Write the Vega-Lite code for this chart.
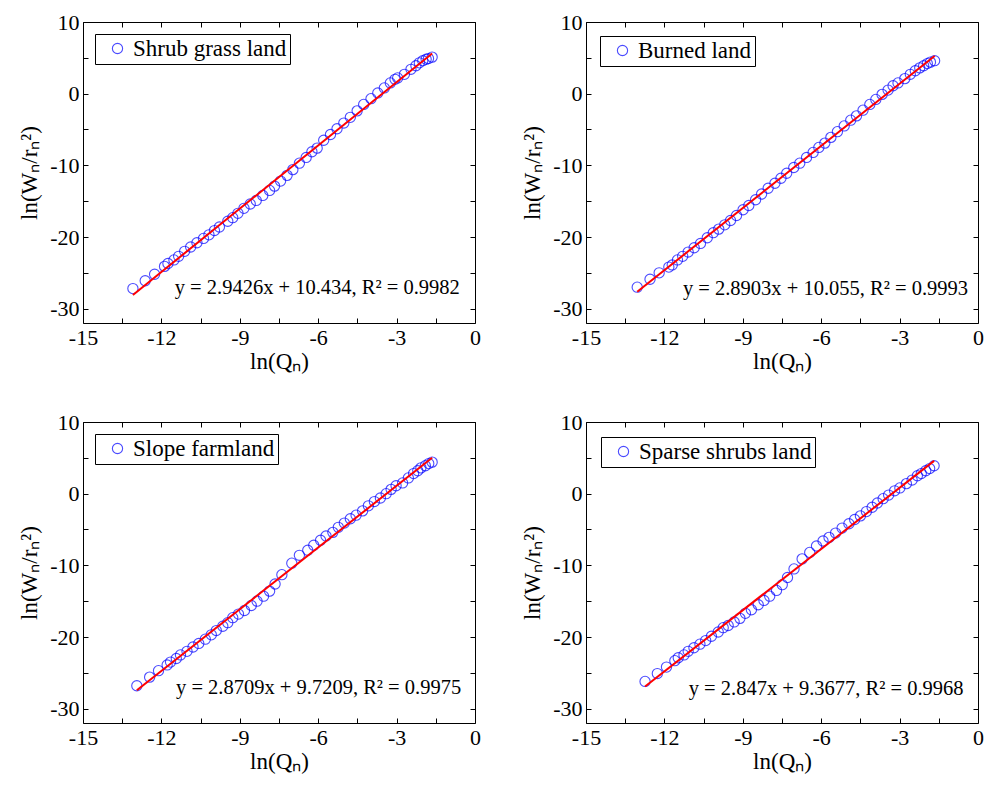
{
  "$schema": "https://vega.github.io/schema/vega-lite/v6.json",
  "background": "white",
  "padding": {"left": 18, "top": 10, "right": 5, "bottom": 5},
  "datasets": {
    "p1": [
      {"lnQ": -13.09, "lnW": -27.2, "land": "Shrub grass land"},
      {"lnQ": -12.62, "lnW": -26.1, "land": "Shrub grass land"},
      {"lnQ": -12.26, "lnW": -25.2, "land": "Shrub grass land"},
      {"lnQ": -11.88, "lnW": -24.1, "land": "Shrub grass land"},
      {"lnQ": -11.75, "lnW": -23.7, "land": "Shrub grass land"},
      {"lnQ": -11.52, "lnW": -23.2, "land": "Shrub grass land"},
      {"lnQ": -11.34, "lnW": -22.7, "land": "Shrub grass land"},
      {"lnQ": -11.11, "lnW": -22.0, "land": "Shrub grass land"},
      {"lnQ": -10.88, "lnW": -21.4, "land": "Shrub grass land"},
      {"lnQ": -10.64, "lnW": -20.8, "land": "Shrub grass land"},
      {"lnQ": -10.39, "lnW": -20.2, "land": "Shrub grass land"},
      {"lnQ": -10.18, "lnW": -19.7, "land": "Shrub grass land"},
      {"lnQ": -9.97, "lnW": -19.1, "land": "Shrub grass land"},
      {"lnQ": -9.78, "lnW": -18.6, "land": "Shrub grass land"},
      {"lnQ": -9.46, "lnW": -17.8, "land": "Shrub grass land"},
      {"lnQ": -9.27, "lnW": -17.3, "land": "Shrub grass land"},
      {"lnQ": -9.07, "lnW": -16.7, "land": "Shrub grass land"},
      {"lnQ": -8.84, "lnW": -16.0, "land": "Shrub grass land"},
      {"lnQ": -8.60, "lnW": -15.4, "land": "Shrub grass land"},
      {"lnQ": -8.37, "lnW": -14.9, "land": "Shrub grass land"},
      {"lnQ": -8.12, "lnW": -14.2, "land": "Shrub grass land"},
      {"lnQ": -7.86, "lnW": -13.5, "land": "Shrub grass land"},
      {"lnQ": -7.67, "lnW": -12.9, "land": "Shrub grass land"},
      {"lnQ": -7.44, "lnW": -12.2, "land": "Shrub grass land"},
      {"lnQ": -7.19, "lnW": -11.4, "land": "Shrub grass land"},
      {"lnQ": -6.97, "lnW": -10.6, "land": "Shrub grass land"},
      {"lnQ": -6.72, "lnW": -9.7, "land": "Shrub grass land"},
      {"lnQ": -6.46, "lnW": -8.9, "land": "Shrub grass land"},
      {"lnQ": -6.24, "lnW": -8.1, "land": "Shrub grass land"},
      {"lnQ": -6.04, "lnW": -7.6, "land": "Shrub grass land"},
      {"lnQ": -5.79, "lnW": -6.5, "land": "Shrub grass land"},
      {"lnQ": -5.53, "lnW": -5.7, "land": "Shrub grass land"},
      {"lnQ": -5.28, "lnW": -4.9, "land": "Shrub grass land"},
      {"lnQ": -5.02, "lnW": -4.1, "land": "Shrub grass land"},
      {"lnQ": -4.77, "lnW": -3.3, "land": "Shrub grass land"},
      {"lnQ": -4.51, "lnW": -2.4, "land": "Shrub grass land"},
      {"lnQ": -4.26, "lnW": -1.5, "land": "Shrub grass land"},
      {"lnQ": -3.98, "lnW": -0.7, "land": "Shrub grass land"},
      {"lnQ": -3.72, "lnW": 0.1, "land": "Shrub grass land"},
      {"lnQ": -3.47, "lnW": 0.8, "land": "Shrub grass land"},
      {"lnQ": -3.24, "lnW": 1.5, "land": "Shrub grass land"},
      {"lnQ": -3.06, "lnW": 2.0, "land": "Shrub grass land"},
      {"lnQ": -2.96, "lnW": 2.2, "land": "Shrub grass land"},
      {"lnQ": -2.70, "lnW": 2.7, "land": "Shrub grass land"},
      {"lnQ": -2.45, "lnW": 3.4, "land": "Shrub grass land"},
      {"lnQ": -2.26, "lnW": 3.9, "land": "Shrub grass land"},
      {"lnQ": -2.13, "lnW": 4.3, "land": "Shrub grass land"},
      {"lnQ": -2.00, "lnW": 4.6, "land": "Shrub grass land"},
      {"lnQ": -1.87, "lnW": 4.8, "land": "Shrub grass land"},
      {"lnQ": -1.78, "lnW": 4.9, "land": "Shrub grass land"},
      {"lnQ": -1.64, "lnW": 5.1, "land": "Shrub grass land"}
    ],
    "f1": [{"lnQ": -13.09, "lnW": -28.08}, {"lnQ": -1.64, "lnW": 5.61}],
    "p2": [
      {"lnQ": -13.04, "lnW": -27.0, "land": "Burned land"},
      {"lnQ": -12.55, "lnW": -25.9, "land": "Burned land"},
      {"lnQ": -12.20, "lnW": -25.0, "land": "Burned land"},
      {"lnQ": -11.83, "lnW": -24.2, "land": "Burned land"},
      {"lnQ": -11.70, "lnW": -23.9, "land": "Burned land"},
      {"lnQ": -11.50, "lnW": -23.2, "land": "Burned land"},
      {"lnQ": -11.30, "lnW": -22.7, "land": "Burned land"},
      {"lnQ": -11.09, "lnW": -22.1, "land": "Burned land"},
      {"lnQ": -10.86, "lnW": -21.5, "land": "Burned land"},
      {"lnQ": -10.62, "lnW": -20.9, "land": "Burned land"},
      {"lnQ": -10.36, "lnW": -20.1, "land": "Burned land"},
      {"lnQ": -10.13, "lnW": -19.4, "land": "Burned land"},
      {"lnQ": -9.92, "lnW": -18.9, "land": "Burned land"},
      {"lnQ": -9.69, "lnW": -18.3, "land": "Burned land"},
      {"lnQ": -9.47, "lnW": -17.7, "land": "Burned land"},
      {"lnQ": -9.24, "lnW": -17.0, "land": "Burned land"},
      {"lnQ": -8.99, "lnW": -16.2, "land": "Burned land"},
      {"lnQ": -8.77, "lnW": -15.6, "land": "Burned land"},
      {"lnQ": -8.51, "lnW": -14.8, "land": "Burned land"},
      {"lnQ": -8.28, "lnW": -14.0, "land": "Burned land"},
      {"lnQ": -8.03, "lnW": -13.2, "land": "Burned land"},
      {"lnQ": -7.77, "lnW": -12.5, "land": "Burned land"},
      {"lnQ": -7.54, "lnW": -11.8, "land": "Burned land"},
      {"lnQ": -7.32, "lnW": -11.1, "land": "Burned land"},
      {"lnQ": -7.05, "lnW": -10.3, "land": "Burned land"},
      {"lnQ": -6.82, "lnW": -9.7, "land": "Burned land"},
      {"lnQ": -6.56, "lnW": -8.9, "land": "Burned land"},
      {"lnQ": -6.31, "lnW": -8.2, "land": "Burned land"},
      {"lnQ": -6.09, "lnW": -7.5, "land": "Burned land"},
      {"lnQ": -5.86, "lnW": -6.9, "land": "Burned land"},
      {"lnQ": -5.63, "lnW": -6.1, "land": "Burned land"},
      {"lnQ": -5.38, "lnW": -5.3, "land": "Burned land"},
      {"lnQ": -5.12, "lnW": -4.5, "land": "Burned land"},
      {"lnQ": -4.87, "lnW": -3.7, "land": "Burned land"},
      {"lnQ": -4.65, "lnW": -3.1, "land": "Burned land"},
      {"lnQ": -4.40, "lnW": -2.3, "land": "Burned land"},
      {"lnQ": -4.14, "lnW": -1.5, "land": "Burned land"},
      {"lnQ": -3.91, "lnW": -0.8, "land": "Burned land"},
      {"lnQ": -3.67, "lnW": -0.1, "land": "Burned land"},
      {"lnQ": -3.44, "lnW": 0.5, "land": "Burned land"},
      {"lnQ": -3.25, "lnW": 1.1, "land": "Burned land"},
      {"lnQ": -3.06, "lnW": 1.5, "land": "Burned land"},
      {"lnQ": -2.80, "lnW": 2.1, "land": "Burned land"},
      {"lnQ": -2.59, "lnW": 2.7, "land": "Burned land"},
      {"lnQ": -2.40, "lnW": 3.2, "land": "Burned land"},
      {"lnQ": -2.23, "lnW": 3.6, "land": "Burned land"},
      {"lnQ": -2.08, "lnW": 3.9, "land": "Burned land"},
      {"lnQ": -1.94, "lnW": 4.2, "land": "Burned land"},
      {"lnQ": -1.82, "lnW": 4.4, "land": "Burned land"},
      {"lnQ": -1.66, "lnW": 4.6, "land": "Burned land"}
    ],
    "f2": [{"lnQ": -13.04, "lnW": -27.63}, {"lnQ": -1.66, "lnW": 5.26}],
    "p3": [
      {"lnQ": -12.94, "lnW": -26.8, "land": "Slope farmland"},
      {"lnQ": -12.45, "lnW": -25.6, "land": "Slope farmland"},
      {"lnQ": -12.11, "lnW": -24.7, "land": "Slope farmland"},
      {"lnQ": -11.78, "lnW": -23.9, "land": "Slope farmland"},
      {"lnQ": -11.65, "lnW": -23.5, "land": "Slope farmland"},
      {"lnQ": -11.43, "lnW": -23.0, "land": "Slope farmland"},
      {"lnQ": -11.27, "lnW": -22.5, "land": "Slope farmland"},
      {"lnQ": -11.02, "lnW": -22.0, "land": "Slope farmland"},
      {"lnQ": -10.79, "lnW": -21.4, "land": "Slope farmland"},
      {"lnQ": -10.57, "lnW": -20.9, "land": "Slope farmland"},
      {"lnQ": -10.32, "lnW": -20.3, "land": "Slope farmland"},
      {"lnQ": -10.09, "lnW": -19.7, "land": "Slope farmland"},
      {"lnQ": -9.90, "lnW": -19.1, "land": "Slope farmland"},
      {"lnQ": -9.65, "lnW": -18.5, "land": "Slope farmland"},
      {"lnQ": -9.46, "lnW": -18.0, "land": "Slope farmland"},
      {"lnQ": -9.27, "lnW": -17.3, "land": "Slope farmland"},
      {"lnQ": -9.05, "lnW": -16.8, "land": "Slope farmland"},
      {"lnQ": -8.82, "lnW": -16.3, "land": "Slope farmland"},
      {"lnQ": -8.56, "lnW": -15.6, "land": "Slope farmland"},
      {"lnQ": -8.34, "lnW": -15.0, "land": "Slope farmland"},
      {"lnQ": -8.09, "lnW": -14.3, "land": "Slope farmland"},
      {"lnQ": -7.86, "lnW": -13.6, "land": "Slope farmland"},
      {"lnQ": -7.65, "lnW": -12.6, "land": "Slope farmland"},
      {"lnQ": -7.39, "lnW": -11.3, "land": "Slope farmland"},
      {"lnQ": -7.01, "lnW": -9.7, "land": "Slope farmland"},
      {"lnQ": -6.72, "lnW": -8.6, "land": "Slope farmland"},
      {"lnQ": -6.40, "lnW": -7.9, "land": "Slope farmland"},
      {"lnQ": -6.17, "lnW": -7.2, "land": "Slope farmland"},
      {"lnQ": -5.91, "lnW": -6.5, "land": "Slope farmland"},
      {"lnQ": -5.70, "lnW": -5.9, "land": "Slope farmland"},
      {"lnQ": -5.44, "lnW": -5.4, "land": "Slope farmland"},
      {"lnQ": -5.23, "lnW": -4.7, "land": "Slope farmland"},
      {"lnQ": -5.00, "lnW": -4.1, "land": "Slope farmland"},
      {"lnQ": -4.77, "lnW": -3.5, "land": "Slope farmland"},
      {"lnQ": -4.55, "lnW": -3.0, "land": "Slope farmland"},
      {"lnQ": -4.30, "lnW": -2.4, "land": "Slope farmland"},
      {"lnQ": -4.08, "lnW": -1.7, "land": "Slope farmland"},
      {"lnQ": -3.85, "lnW": -1.1, "land": "Slope farmland"},
      {"lnQ": -3.62, "lnW": -0.6, "land": "Slope farmland"},
      {"lnQ": -3.40, "lnW": 0.0, "land": "Slope farmland"},
      {"lnQ": -3.21, "lnW": 0.6, "land": "Slope farmland"},
      {"lnQ": -3.02, "lnW": 1.1, "land": "Slope farmland"},
      {"lnQ": -2.77, "lnW": 1.5, "land": "Slope farmland"},
      {"lnQ": -2.55, "lnW": 2.2, "land": "Slope farmland"},
      {"lnQ": -2.35, "lnW": 2.8, "land": "Slope farmland"},
      {"lnQ": -2.19, "lnW": 3.2, "land": "Slope farmland"},
      {"lnQ": -2.07, "lnW": 3.6, "land": "Slope farmland"},
      {"lnQ": -1.90, "lnW": 3.9, "land": "Slope farmland"},
      {"lnQ": -1.77, "lnW": 4.2, "land": "Slope farmland"},
      {"lnQ": -1.64, "lnW": 4.4, "land": "Slope farmland"}
    ],
    "f3": [{"lnQ": -12.94, "lnW": -27.43}, {"lnQ": -1.64, "lnW": 5.01}],
    "p4": [
      {"lnQ": -12.74, "lnW": -26.2, "land": "Sparse shrubs land"},
      {"lnQ": -12.27, "lnW": -25.1, "land": "Sparse shrubs land"},
      {"lnQ": -11.92, "lnW": -24.2, "land": "Sparse shrubs land"},
      {"lnQ": -11.60, "lnW": -23.3, "land": "Sparse shrubs land"},
      {"lnQ": -11.47, "lnW": -22.9, "land": "Sparse shrubs land"},
      {"lnQ": -11.25, "lnW": -22.5, "land": "Sparse shrubs land"},
      {"lnQ": -11.09, "lnW": -22.0, "land": "Sparse shrubs land"},
      {"lnQ": -10.87, "lnW": -21.5, "land": "Sparse shrubs land"},
      {"lnQ": -10.64, "lnW": -21.0, "land": "Sparse shrubs land"},
      {"lnQ": -10.42, "lnW": -20.5, "land": "Sparse shrubs land"},
      {"lnQ": -10.20, "lnW": -19.9, "land": "Sparse shrubs land"},
      {"lnQ": -9.94, "lnW": -19.3, "land": "Sparse shrubs land"},
      {"lnQ": -9.75, "lnW": -18.7, "land": "Sparse shrubs land"},
      {"lnQ": -9.56, "lnW": -18.4, "land": "Sparse shrubs land"},
      {"lnQ": -9.33, "lnW": -17.9, "land": "Sparse shrubs land"},
      {"lnQ": -9.11, "lnW": -17.4, "land": "Sparse shrubs land"},
      {"lnQ": -8.90, "lnW": -16.7, "land": "Sparse shrubs land"},
      {"lnQ": -8.67, "lnW": -16.2, "land": "Sparse shrubs land"},
      {"lnQ": -8.41, "lnW": -15.5, "land": "Sparse shrubs land"},
      {"lnQ": -8.19, "lnW": -14.9, "land": "Sparse shrubs land"},
      {"lnQ": -7.97, "lnW": -14.3, "land": "Sparse shrubs land"},
      {"lnQ": -7.71, "lnW": -13.5, "land": "Sparse shrubs land"},
      {"lnQ": -7.49, "lnW": -12.7, "land": "Sparse shrubs land"},
      {"lnQ": -7.29, "lnW": -11.7, "land": "Sparse shrubs land"},
      {"lnQ": -7.04, "lnW": -10.5, "land": "Sparse shrubs land"},
      {"lnQ": -6.73, "lnW": -9.1, "land": "Sparse shrubs land"},
      {"lnQ": -6.44, "lnW": -8.2, "land": "Sparse shrubs land"},
      {"lnQ": -6.18, "lnW": -7.3, "land": "Sparse shrubs land"},
      {"lnQ": -5.93, "lnW": -6.6, "land": "Sparse shrubs land"},
      {"lnQ": -5.70, "lnW": -6.1, "land": "Sparse shrubs land"},
      {"lnQ": -5.45, "lnW": -5.5, "land": "Sparse shrubs land"},
      {"lnQ": -5.20, "lnW": -4.8, "land": "Sparse shrubs land"},
      {"lnQ": -4.94, "lnW": -4.2, "land": "Sparse shrubs land"},
      {"lnQ": -4.72, "lnW": -3.6, "land": "Sparse shrubs land"},
      {"lnQ": -4.50, "lnW": -3.1, "land": "Sparse shrubs land"},
      {"lnQ": -4.27, "lnW": -2.5, "land": "Sparse shrubs land"},
      {"lnQ": -4.05, "lnW": -1.9, "land": "Sparse shrubs land"},
      {"lnQ": -3.85, "lnW": -1.3, "land": "Sparse shrubs land"},
      {"lnQ": -3.63, "lnW": -0.7, "land": "Sparse shrubs land"},
      {"lnQ": -3.42, "lnW": -0.2, "land": "Sparse shrubs land"},
      {"lnQ": -3.19, "lnW": 0.4, "land": "Sparse shrubs land"},
      {"lnQ": -2.99, "lnW": 0.8, "land": "Sparse shrubs land"},
      {"lnQ": -2.74, "lnW": 1.4, "land": "Sparse shrubs land"},
      {"lnQ": -2.52, "lnW": 1.9, "land": "Sparse shrubs land"},
      {"lnQ": -2.32, "lnW": 2.5, "land": "Sparse shrubs land"},
      {"lnQ": -2.17, "lnW": 2.8, "land": "Sparse shrubs land"},
      {"lnQ": -2.00, "lnW": 3.2, "land": "Sparse shrubs land"},
      {"lnQ": -1.85, "lnW": 3.5, "land": "Sparse shrubs land"},
      {"lnQ": -1.68, "lnW": 3.9, "land": "Sparse shrubs land"}
    ],
    "f4": [{"lnQ": -12.74, "lnW": -26.90}, {"lnQ": -1.68, "lnW": 4.58}]
  },
  "columns": 2,
  "bounds": "flush",
  "spacing": {"row": 99, "column": 111},
  "resolve": {"scale": {"color": "independent", "x": "independent", "y": "independent"}, "legend": {"color": "independent"}},
  "concat": [
    {
      "width": 392, "height": 301,
      "resolve": {"axis": {"x": "independent", "y": "independent"}},
      "layer": [
        {
          "data": {"name": "p1"},
          "mark": {"type": "point", "shape": "circle", "filled": false, "size": 105, "strokeWidth": 1.1},
          "encoding": {
            "x": {"field": "lnQ", "type": "quantitative", "scale": {"domain": [-15, 0], "nice": false, "zero": false}, "title": "ln(Qₙ)",
                  "axis": {"orient": "bottom", "values": [-15, -13.5, -12, -10.5, -9, -7.5, -6, -4.5, -3, -1.5, 0], "labelExpr": "datum.value % 3 == 0 ? '' + datum.value : ''"}},
            "y": {"field": "lnW", "type": "quantitative", "scale": {"domain": [-32, 10], "nice": false, "zero": false}, "title": "ln(Wₙ/rₙ²)",
                  "axis": {"orient": "left", "values": [-30, -25, -20, -15, -10, -5, 0, 5, 10], "labelExpr": "datum.value % 10 == 0 ? '' + datum.value : ''"}},
            "color": {"field": "land", "type": "nominal", "scale": {"range": ["#0000ff"]}, "legend": {"offset": 12}}
          }
        },
        {
          "data": {"name": "f1"},
          "mark": {"type": "line", "color": "#ff0000", "strokeWidth": 2},
          "encoding": {
            "x": {"field": "lnQ", "type": "quantitative", "axis": {"orient": "top", "labels": false, "title": null, "values": [-15, -13.5, -12, -10.5, -9, -7.5, -6, -4.5, -3, -1.5, 0]}},
            "y": {"field": "lnW", "type": "quantitative", "axis": {"orient": "right", "labels": false, "title": null, "values": [-30, -25, -20, -15, -10, -5, 0, 5, 10]}}
          }
        },
        {
          "data": {"values": [{}]},
          "mark": {"type": "text", "text": "y = 2.9426x + 10.434, R² = 0.9982", "align": "right", "baseline": "middle", "fontSize": 20.5, "font": "Times New Roman, Liberation Serif, serif", "color": "black"},
          "encoding": {
            "x": {"datum": -0.58, "type": "quantitative", "axis": null},
            "y": {"datum": -27.1, "type": "quantitative", "axis": null}
          }
        }
      ]
    },
    {
      "width": 392, "height": 301,
      "resolve": {"axis": {"x": "independent", "y": "independent"}},
      "layer": [
        {
          "data": {"name": "p2"},
          "mark": {"type": "point", "shape": "circle", "filled": false, "size": 105, "strokeWidth": 1.1},
          "encoding": {
            "x": {"field": "lnQ", "type": "quantitative", "scale": {"domain": [-15, 0], "nice": false, "zero": false}, "title": "ln(Qₙ)",
                  "axis": {"orient": "bottom", "values": [-15, -13.5, -12, -10.5, -9, -7.5, -6, -4.5, -3, -1.5, 0], "labelExpr": "datum.value % 3 == 0 ? '' + datum.value : ''"}},
            "y": {"field": "lnW", "type": "quantitative", "scale": {"domain": [-32, 10], "nice": false, "zero": false}, "title": "ln(Wₙ/rₙ²)",
                  "axis": {"orient": "left", "values": [-30, -25, -20, -15, -10, -5, 0, 5, 10], "labelExpr": "datum.value % 10 == 0 ? '' + datum.value : ''"}},
            "color": {"field": "land", "type": "nominal", "scale": {"range": ["#0000ff"]}, "legend": {"offset": 14}}
          }
        },
        {
          "data": {"name": "f2"},
          "mark": {"type": "line", "color": "#ff0000", "strokeWidth": 2},
          "encoding": {
            "x": {"field": "lnQ", "type": "quantitative", "axis": {"orient": "top", "labels": false, "title": null, "values": [-15, -13.5, -12, -10.5, -9, -7.5, -6, -4.5, -3, -1.5, 0]}},
            "y": {"field": "lnW", "type": "quantitative", "axis": {"orient": "right", "labels": false, "title": null, "values": [-30, -25, -20, -15, -10, -5, 0, 5, 10]}}
          }
        },
        {
          "data": {"values": [{}]},
          "mark": {"type": "text", "text": "y = 2.8903x + 10.055, R² = 0.9993", "align": "right", "baseline": "middle", "fontSize": 20.5, "font": "Times New Roman, Liberation Serif, serif", "color": "black"},
          "encoding": {
            "x": {"datum": -0.38, "type": "quantitative", "axis": null},
            "y": {"datum": -27.2, "type": "quantitative", "axis": null}
          }
        }
      ]
    },
    {
      "width": 392, "height": 301,
      "resolve": {"axis": {"x": "independent", "y": "independent"}},
      "layer": [
        {
          "data": {"name": "p3"},
          "mark": {"type": "point", "shape": "circle", "filled": false, "size": 105, "strokeWidth": 1.1},
          "encoding": {
            "x": {"field": "lnQ", "type": "quantitative", "scale": {"domain": [-15, 0], "nice": false, "zero": false}, "title": "ln(Qₙ)",
                  "axis": {"orient": "bottom", "values": [-15, -13.5, -12, -10.5, -9, -7.5, -6, -4.5, -3, -1.5, 0], "labelExpr": "datum.value % 3 == 0 ? '' + datum.value : ''"}},
            "y": {"field": "lnW", "type": "quantitative", "scale": {"domain": [-32, 10], "nice": false, "zero": false}, "title": "ln(Wₙ/rₙ²)",
                  "axis": {"orient": "left", "values": [-30, -25, -20, -15, -10, -5, 0, 5, 10], "labelExpr": "datum.value % 10 == 0 ? '' + datum.value : ''"}},
            "color": {"field": "land", "type": "nominal", "scale": {"range": ["#0000ff"]}, "legend": {"offset": 12}}
          }
        },
        {
          "data": {"name": "f3"},
          "mark": {"type": "line", "color": "#ff0000", "strokeWidth": 2},
          "encoding": {
            "x": {"field": "lnQ", "type": "quantitative", "axis": {"orient": "top", "labels": false, "title": null, "values": [-15, -13.5, -12, -10.5, -9, -7.5, -6, -4.5, -3, -1.5, 0]}},
            "y": {"field": "lnW", "type": "quantitative", "axis": {"orient": "right", "labels": false, "title": null, "values": [-30, -25, -20, -15, -10, -5, 0, 5, 10]}}
          }
        },
        {
          "data": {"values": [{}]},
          "mark": {"type": "text", "text": "y = 2.8709x + 9.7209, R² = 0.9975", "align": "right", "baseline": "middle", "fontSize": 20.5, "font": "Times New Roman, Liberation Serif, serif", "color": "black"},
          "encoding": {
            "x": {"datum": -0.53, "type": "quantitative", "axis": null},
            "y": {"datum": -27.1, "type": "quantitative", "axis": null}
          }
        }
      ]
    },
    {
      "width": 392, "height": 301,
      "resolve": {"axis": {"x": "independent", "y": "independent"}},
      "layer": [
        {
          "data": {"name": "p4"},
          "mark": {"type": "point", "shape": "circle", "filled": false, "size": 105, "strokeWidth": 1.1},
          "encoding": {
            "x": {"field": "lnQ", "type": "quantitative", "scale": {"domain": [-15, 0], "nice": false, "zero": false}, "title": "ln(Qₙ)",
                  "axis": {"orient": "bottom", "values": [-15, -13.5, -12, -10.5, -9, -7.5, -6, -4.5, -3, -1.5, 0], "labelExpr": "datum.value % 3 == 0 ? '' + datum.value : ''"}},
            "y": {"field": "lnW", "type": "quantitative", "scale": {"domain": [-32, 10], "nice": false, "zero": false}, "title": "ln(Wₙ/rₙ²)",
                  "axis": {"orient": "left", "values": [-30, -25, -20, -15, -10, -5, 0, 5, 10], "labelExpr": "datum.value % 10 == 0 ? '' + datum.value : ''"}},
            "color": {"field": "land", "type": "nominal", "scale": {"range": ["#0000ff"]}, "legend": {"offset": 15}}
          }
        },
        {
          "data": {"name": "f4"},
          "mark": {"type": "line", "color": "#ff0000", "strokeWidth": 2},
          "encoding": {
            "x": {"field": "lnQ", "type": "quantitative", "axis": {"orient": "top", "labels": false, "title": null, "values": [-15, -13.5, -12, -10.5, -9, -7.5, -6, -4.5, -3, -1.5, 0]}},
            "y": {"field": "lnW", "type": "quantitative", "axis": {"orient": "right", "labels": false, "title": null, "values": [-30, -25, -20, -15, -10, -5, 0, 5, 10]}}
          }
        },
        {
          "data": {"values": [{}]},
          "mark": {"type": "text", "text": "y = 2.847x + 9.3677, R² = 0.9968", "align": "right", "baseline": "middle", "fontSize": 20.5, "font": "Times New Roman, Liberation Serif, serif", "color": "black"},
          "encoding": {
            "x": {"datum": -0.55, "type": "quantitative", "axis": null},
            "y": {"datum": -27.3, "type": "quantitative", "axis": null}
          }
        }
      ]
    }
  ],
  "config": {
    "font": "Times New Roman, Liberation Serif, serif",
    "view": {"stroke": "black", "strokeWidth": 1},
    "axis": {
      "grid": false,
      "domain": false,
      "tickColor": "black",
      "tickSize": -5,
      "tickWidth": 1,
      "labelFlush": false,
      "labelOverlap": false,
      "labelFont": "Times New Roman, Liberation Serif, serif",
      "labelFontSize": 22,
      "labelColor": "black",
      "labelPadding": 9,
      "titleFont": "Times New Roman, Liberation Serif, serif",
      "titleFontSize": 23,
      "titleFontWeight": "normal",
      "titleColor": "black"
    },
    "axisX": {"titlePadding": 2},
    "axisY": {"titlePadding": 8},
    "legend": {
      "orient": "top-left",
      "title": null,
      "strokeColor": "black",
      "strokeWidth": 1,
      "fillColor": "white",
      "padding": 3,
      "cornerRadius": 0,
      "labelFont": "Times New Roman, Liberation Serif, serif",
      "labelFontSize": 23,
      "labelColor": "black",
      "labelLimit": 400,
      "labelOffset": 4,
      "symbolType": "circle",
      "symbolSize": 105,
      "symbolStrokeWidth": 1.1,
      "symbolOffset": 8
    }
  }
}
